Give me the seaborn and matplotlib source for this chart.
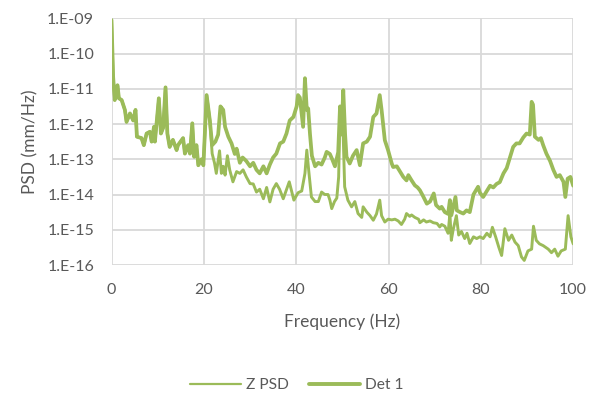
import numpy as np
import pandas as pd
import matplotlib
matplotlib.use("Agg")
import matplotlib.pyplot as plt
import seaborn as sns
from matplotlib.lines import Line2D

# ---- data (frequency in Hz, PSD read as log10 exponent) ----
shared_f = [0, 0.35, 0.7, 1.0, 1.3, 1.6, 2.2, 2.9, 3.25, 4.0, 4.7, 5.2, 5.5, 6.5, 7.0,
            7.6, 8.3, 8.7, 9.2, 9.4, 10.25, 10.7, 11.2, 11.7, 12.1, 12.6, 13.3, 14.1,
            14.4, 15.5, 15.9, 16.6, 17.0, 17.5, 17.9, 18.4, 18.8, 19.5, 19.9, 20.6, 21.3]
shared_log = [-9.05, -10.66, -11.32, -11.0, -10.9, -11.27, -11.32, -11.6, -11.94, -11.7,
              -11.9, -11.6, -12.36, -12.4, -12.6, -12.27, -12.22, -12.5, -12.08, -12.5,
              -11.27, -12.27, -12.1, -10.96, -12.27, -12.65, -12.45, -12.74, -12.6, -12.4,
              -12.84, -12.6, -12.84, -11.98, -12.93, -12.6, -13.17, -13.0, -13.17, -11.18, -11.9]

det1_f = [21.8, 22.5, 23.1, 23.6, 24.2, 24.6, 25.3, 26.0, 26.7, 27.1, 27.8, 28.4, 29.2,
          30.0, 30.7, 31.4, 32.1, 32.9, 33.6, 34.3, 35.0, 35.7, 36.5, 37.2, 37.9, 38.6,
          39.4, 40.1, 40.4, 40.8, 41.1, 41.5, 41.9, 42.3, 42.6, 43.0, 43.4, 44.1, 44.8,
          45.5, 46.2, 46.6, 47.3, 47.8, 48.4, 49.1, 49.5, 49.8, 50.2, 50.6, 50.9, 51.6,
          52.3, 53.1, 53.8, 54.5, 55.3, 56.0, 56.7, 57.4, 58.1, 58.5, 59.2, 59.9, 60.7,
          61.0, 61.8, 62.5, 63.2, 63.9, 64.3, 65.0, 65.7, 66.3, 66.8, 67.5, 68.3, 69.0,
          69.8, 70.3, 71.1, 71.5, 72.2, 72.9, 73.3, 73.6, 74.5, 74.8, 75.5, 76.2, 76.9,
          77.6, 78.4, 79.4, 79.8, 80.5, 81.3, 82.0, 82.7, 83.4, 84.1, 84.9, 85.6, 86.3,
          87.0, 87.7, 88.4, 89.2, 89.9, 90.6, 91.0, 91.3, 91.7, 92.5, 93.0, 93.5, 94.2,
          95.0, 95.7, 96.4, 97.1, 97.9, 98.3, 98.8, 99.4, 100.0]
det1_log = [-12.6, -12.5, -12.3, -11.5, -11.6, -12.08, -12.36, -12.55, -12.85, -12.7, -13.1,
            -12.95, -13.05, -13.2, -13.1, -13.3, -13.4, -13.2, -13.4, -13.15, -12.95, -12.84,
            -12.55, -12.5, -12.27, -11.9, -11.8, -11.5, -11.18, -11.25, -11.6, -12.08, -10.7,
            -11.6, -11.56, -12.3, -12.9, -13.2, -13.1, -13.15, -12.95, -12.79, -12.85, -13.0,
            -13.2, -12.8, -11.5, -12.3, -11.04, -12.3, -12.93, -13.12, -12.9, -12.74, -13.17,
            -12.55, -12.5, -12.36, -11.8, -11.7, -11.18, -11.6, -12.46, -12.74, -13.12,
            -13.22, -13.2, -13.35, -13.5, -13.6, -13.45, -13.6, -13.74, -13.8, -13.88, -14.05,
            -14.26, -14.2, -13.97, -14.3, -14.4, -14.35, -14.5, -14.55, -14.16, -14.59, -14.07,
            -14.45, -14.5, -14.54, -14.45, -14.5, -14.0, -13.78, -13.95, -14.07, -13.9, -13.75,
            -13.8, -13.7, -13.65, -13.4, -13.25, -12.95, -12.65, -12.55, -12.55, -12.38,
            -12.27, -12.3, -11.37, -11.45, -12.36, -12.45, -12.4, -12.6, -12.84, -13.05,
            -13.3, -13.5, -13.45, -13.64, -14.07, -13.55, -13.5, -13.75]

zpsd_f = [21.8, 22.3, 22.7, 23.4, 23.8, 24.2, 24.6, 25.1, 25.6, 26.3, 27.1, 27.8, 28.5,
          29.2, 30.0, 30.7, 31.4, 32.1, 32.9, 33.6, 34.3, 35.0, 35.7, 36.4, 37.2, 37.8,
          38.5, 39.0, 39.5, 40.4, 41.2, 41.9, 42.3, 42.7, 43.3, 44.1, 44.8, 45.5, 46.2,
          46.9, 47.3, 47.7, 48.3, 48.8, 49.2, 49.5, 49.8, 50.2, 50.5, 51.2, 52.0, 52.7,
          53.4, 54.2, 54.5, 55.3, 56.0, 56.7, 57.4, 58.1, 58.5, 59.2, 59.9, 60.7, 61.4,
          62.1, 62.8, 63.5, 63.9, 64.6, 65.0, 65.7, 66.5, 66.8, 67.6, 68.2, 69.0, 69.7,
          70.5, 71.1, 71.5, 72.2, 72.9, 73.3, 73.6, 74.0, 74.7, 75.2, 75.8, 76.5, 77.0,
          77.6, 78.4, 79.1, 79.8, 80.5, 81.3, 82.0, 82.5, 83.2, 83.9, 84.5, 85.2, 86.0,
          86.7, 87.4, 88.1, 88.8, 89.4, 90.2, 91.0, 91.4, 92.0, 92.7, 93.5, 94.6, 95.3,
          96.0, 96.7, 97.4, 98.3, 98.9, 99.5, 100.0]
zpsd_log = [-12.84, -13.1, -13.4, -12.76, -13.4, -13.2, -13.45, -12.9, -13.3, -13.64, -13.35,
            -13.4, -13.3, -13.5, -13.69, -13.7, -13.93, -13.85, -14.12, -13.8, -14.21, -13.85,
            -13.69, -13.85, -14.12, -13.9, -13.64, -13.9, -14.16, -13.95, -13.9, -13.4, -12.74,
            -13.3, -14.07, -14.2, -14.2, -13.93, -14.0, -14.0, -14.16, -14.4, -14.2, -14.1,
            -13.5, -11.6, -11.5, -12.4, -13.78, -14.16, -14.35, -14.2, -14.54, -14.65, -14.35,
            -14.5, -14.6, -14.73, -14.55, -14.16, -14.6, -14.78, -14.7, -14.72, -14.7, -14.75,
            -14.85, -14.7, -14.54, -14.62, -14.58, -14.65, -14.7, -14.8, -14.72, -14.78, -14.75,
            -14.8, -14.82, -14.92, -14.85, -14.9, -15.1, -14.54, -15.3, -15.0, -14.6, -15.15,
            -15.05, -15.25, -15.1, -15.39, -15.2, -15.25, -15.2, -15.25, -15.1, -15.2, -14.93,
            -15.2, -15.5, -15.73, -14.97, -15.3, -15.15, -15.35, -15.45, -15.77, -15.87, -15.6,
            -15.55, -14.9, -15.3, -15.4, -15.45, -15.55, -15.65, -15.55, -15.75, -15.6, -15.55,
            -14.6, -15.2, -15.4]

series_names = ["Z PSD", "Det 1"]
y_ticks = [1e-16, 1e-15, 1e-14, 1e-13, 1e-12, 1e-11, 1e-10, 1e-09]
y_tick_labels = ["1.E-16", "1.E-15", "1.E-14", "1.E-13", "1.E-12", "1.E-11", "1.E-10", "1.E-09"]
x_ticks = [0, 20, 40, 60, 80, 100]

# ---- build table ----
z_df = pd.DataFrame({"Frequency": shared_f + zpsd_f,
                     "PSD": 10.0 ** np.array(shared_log + zpsd_log),
                     "series": series_names[0]})
d_df = pd.DataFrame({"Frequency": shared_f + det1_f,
                     "PSD": 10.0 ** np.array(shared_log + det1_log),
                     "series": series_names[1]})
df = pd.concat([z_df, d_df], ignore_index=True)

sns.set_theme(style="white")
plt.rcParams["font.family"] = ["Lato", "DejaVu Sans"]

GREEN = "#9BBB59"
TXT = "#595959"

fig = plt.figure(figsize=(5.9, 3.94), dpi=100)
ax = fig.add_axes([0.189, 0.3274, 0.7825, 0.6262])

sns.lineplot(data=df, x="Frequency", y="PSD", hue="series", size="series",
             sizes={"Z PSD": 2.1, "Det 1": 2.7},
             palette={"Z PSD": GREEN, "Det 1": GREEN},
             sort=False, estimator=None, ax=ax, legend=False)

ax.set_yscale("log")
ax.set_xlim(0, 100)
ax.set_ylim(1e-16, 1e-09)
ax.set_xticks(x_ticks)
ax.set_xticklabels([str(v) for v in x_ticks])
ax.set_yticks(y_ticks)
ax.set_yticklabels(y_tick_labels)
ax.yaxis.set_minor_locator(matplotlib.ticker.NullLocator())
ax.grid(True, color="#D9D9D9", linewidth=1.3)
ax.set_axisbelow(True)
for s in ax.spines.values():
    s.set_visible(False)
ax.tick_params(axis="both", length=0, labelsize=11.5, colors=TXT)
ax.tick_params(axis="y", pad=12.5)
ax.tick_params(axis="x", pad=13)
ax.set_xlabel("Frequency (Hz)", fontsize=12.5, color=TXT, labelpad=12)
ax.set_ylabel("PSD (mm/Hz)", fontsize=12.5, color=TXT, labelpad=6)

handles = [Line2D([], [], color=GREEN, linewidth=1.6),
           Line2D([], [], color=GREEN, linewidth=2.8)]
leg = fig.legend(handles, series_names, loc="center", bbox_to_anchor=(0.503, 1 - 385 / 394),
                 ncol=2, frameon=False, fontsize=11.2, handlelength=3.3,
                 columnspacing=1.3, handletextpad=0.3)
for t in leg.get_texts():
    t.set_color(TXT)

fig.savefig("out.png", dpi=100)
